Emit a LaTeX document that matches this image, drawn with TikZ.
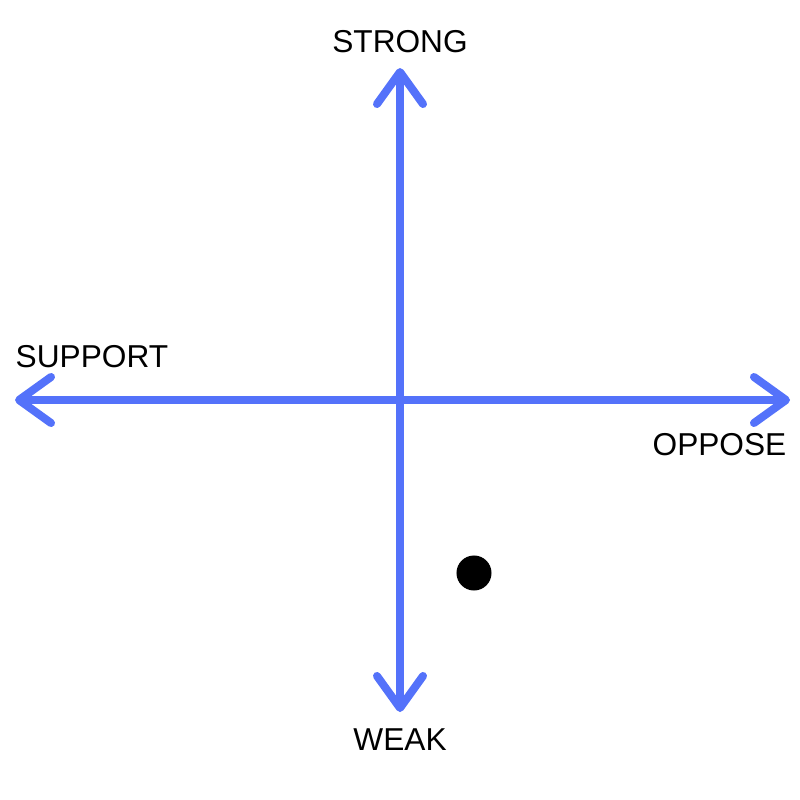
\documentclass[tikz,border=0pt]{standalone}
\usepackage{fontspec}
\setmainfont{Liberation Sans}
\usetikzlibrary{arrows.meta}
\definecolor{axisblue}{RGB}{84,114,250}
\begin{document}
\begin{tikzpicture}[x=0.01cm,y=-0.01cm,
  axis/.style={line width=0.08cm,axisblue,{Straight Barb[length=3.2mm,width=4.6mm,round]}-{Straight Barb[length=3.2mm,width=4.6mm,round]}},
  lbl/.style={font=\fontsize{9}{10}\selectfont,inner sep=0pt}]
  \useasboundingbox (0,0) rectangle (800,800);
  \coordinate (top) at (400,68);
  \coordinate (bottom) at (400,712);
  \coordinate (left) at (15,400);
  \coordinate (right) at (790,400);
  \draw[axis] (bottom) -- (top);
  \draw[axis] (left) -- (right);
  \node[lbl,anchor=base] (strong) at (400,52) {STRONG};
  \node[lbl,anchor=base] (weak) at (400,750) {WEAK};
  \node[lbl,anchor=base west] (support) at (15,367) {SUPPORT};
  \node[lbl,anchor=base east] (oppose) at (787,455) {OPPOSE};
  \node[circle,fill=black,inner sep=0pt,minimum size=0.35cm] (dot) at (474,573) {};
\end{tikzpicture}
\end{document}
